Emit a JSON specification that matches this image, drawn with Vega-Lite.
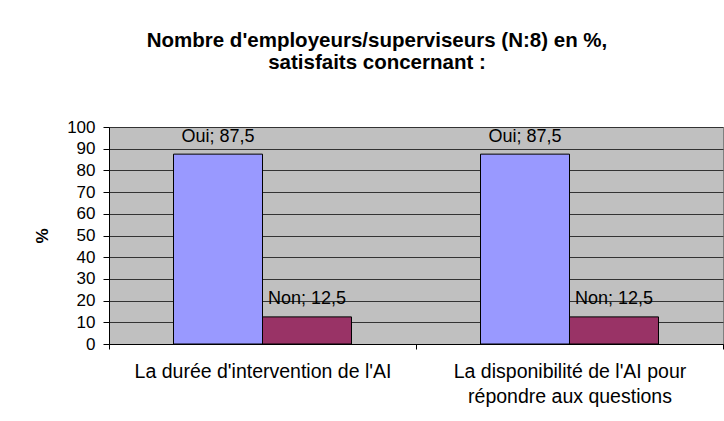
{
  "$schema": "https://vega.github.io/schema/vega-lite/v6.json",
  "width": 614,
  "height": 217,
  "autosize": {"type": "none"},
  "padding": {"left": 109, "top": 127, "right": 1, "bottom": 77},
  "background": "white",
  "title": {
    "text": ["Nombre d'employeurs/superviseurs (N:8) en %,", "satisfaits concernant :"],
    "font": "Liberation Sans",
    "fontSize": 20.5,
    "fontWeight": "bold",
    "color": "black",
    "anchor": "middle",
    "dx": -39,
    "lineHeight": 22,
    "offset": 45
  },
  "data": {
    "values": [
      {"categorie": "La durée d'intervention de l'AI", "reponse": "Oui", "pct": 87.5},
      {"categorie": "La durée d'intervention de l'AI", "reponse": "Non", "pct": 12.5},
      {"categorie": "La disponibilité de l'AI pour répondre aux questions", "reponse": "Oui", "pct": 87.5},
      {"categorie": "La disponibilité de l'AI pour répondre aux questions", "reponse": "Non", "pct": 12.5}
    ]
  },
  "encoding": {
    "x": {
      "field": "categorie",
      "type": "nominal",
      "sort": null,
      "scale": {"paddingInner": 0, "paddingOuter": 0},
      "axis": {
        "title": null,
        "labelAngle": 0,
        "labelExpr": "isString(datum.value) ? split(replace(datum.value, 'pour ', 'pour|'), '|') : ''",
        "labelFont": "Liberation Sans",
        "labelFontSize": 19.5,
        "labelColor": "black",
        "labelLineHeight": 25,
        "labelPadding": 13,
        "labelLimit": 400,
        "domainColor": "black",
        "tickColor": "black",
        "tickSize": 5,
        "tickBand": "extent",
        "grid": false
      }
    },
    "xOffset": {
      "field": "reponse",
      "type": "nominal",
      "sort": ["Oui", "Non"],
      "scale": {"paddingInner": 0, "paddingOuter": 0.725}
    },
    "y": {
      "field": "pct",
      "type": "quantitative",
      "scale": {"domain": [0, 100], "nice": false},
      "axis": {
        "title": "%",
        "titleFont": "Liberation Sans",
        "titleFontSize": 17,
        "titleFontWeight": "bold",
        "titleColor": "black",
        "titlePadding": 15,
        "values": [0, 10, 20, 30, 40, 50, 60, 70, 80, 90, 100],
        "labelFont": "Liberation Sans",
        "labelFontSize": 17,
        "labelColor": "black",
        "labelPadding": 8,
        "domainColor": "black",
        "tickColor": "black",
        "tickSize": 6,
        "gridColor": "#333333",
        "gridOpacity": 1,
        "labelFlush": false
      }
    }
  },
  "layer": [
    {
      "mark": {"type": "bar", "stroke": "black", "strokeWidth": 1},
      "encoding": {
        "color": {
          "field": "reponse",
          "type": "nominal",
          "scale": {"domain": ["Oui", "Non"], "range": ["#9999FF", "#993366"]},
          "legend": null
        }
      }
    },
    {
      "mark": {"type": "text", "font": "Liberation Sans", "fontSize": 18, "color": "black", "baseline": "alphabetic", "dy": -12.5},
      "encoding": {
        "text": {"field": "label", "type": "nominal"}
      },
      "transform": [
        {"calculate": "datum.reponse + '; ' + replace(format(datum.pct, '.1f'), '.', ',')", "as": "label"}
      ]
    }
  ],
  "config": {
    "view": {"fill": "#C0C0C0", "stroke": "#808080"}
  }
}
